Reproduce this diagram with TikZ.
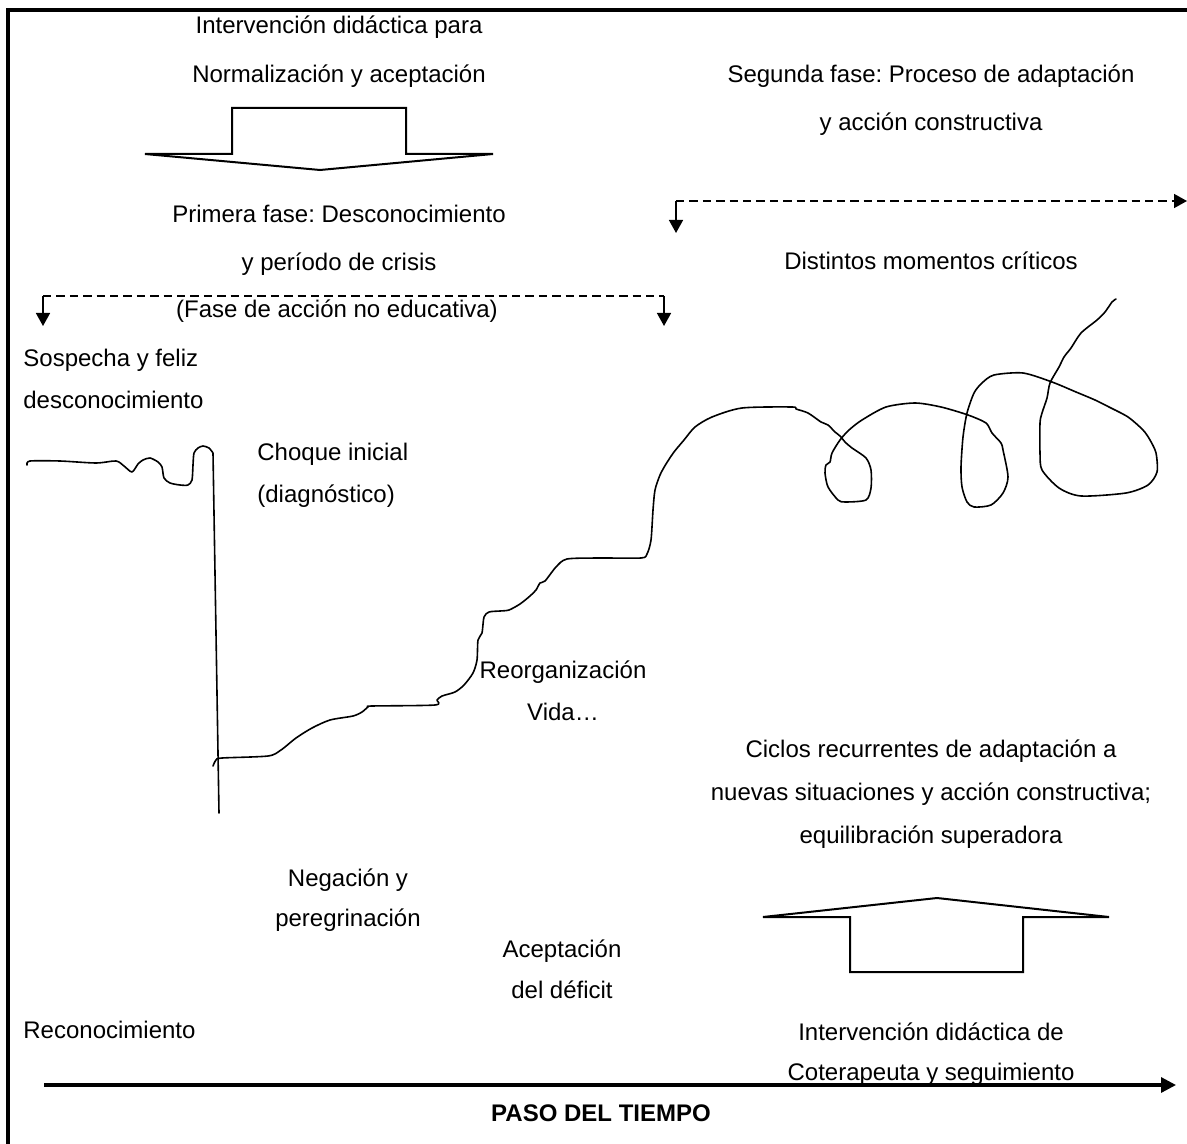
\documentclass[tikz,border=0pt]{standalone}
\usepackage{fontspec}
\setmainfont{Liberation Sans}
\usetikzlibrary{arrows.meta,positioning}
\frenchspacing

\begin{document}
\begin{tikzpicture}[
    x=0.5pt, y=-0.5pt,
    font=\fontsize{12}{14}\selectfont,
    ctxt/.style={inner sep=0pt, anchor=base},
    ltxt/.style={inner sep=0pt, anchor=base west},
    blockarrow/.style={line width=1pt, line join=miter},
    bracket/.style={line width=0.75pt, dash pattern=on 4.2pt off 2.5pt},
    tick/.style={-{Triangle[length=6.5pt, width=7pt]}, line width=0.75pt},
    timearrow/.style={-{Triangle[length=7.5pt, width=7.5pt]}, line width=1.6pt},
    curve/.style={line width=0.8pt, line join=round, line cap=round},
  ]
  \useasboundingbox (0,0) rectangle (1187,1144);

  % Frame
  \draw[line width=1.75pt] (8,1160) -- (8,10) -- (1200,10);

  % First phase
  \node[ctxt] (normA) at (339,34) {Intervención didáctica para};
  \node[ctxt] (normB) at (339,83) {Normalización y aceptación};
  \draw[blockarrow] (232,108) -- (406,108) -- (406,154) -- (493,154) -- (320,170)
    -- (145,154) -- (232,154) -- cycle;
  \node[ctxt] (fase1A) at (339,223) {Primera fase: Desconocimiento};
  \node[ctxt] (fase1B) at (339,271) {y período de crisis};
  \node[ctxt] (fase1C) at (337,318) {(Fase de acción no educativa)};

  \coordinate (f1l) at (43,296);
  \coordinate (f1r) at (664,296);
  \coordinate (f1lend) at (43,326);
  \coordinate (f1rend) at (664,326);
  \draw[bracket] (f1l) -- (f1r);
  \draw[tick] (f1l) -- (f1lend);
  \draw[tick] (f1r) -- (f1rend);

  % Second phase
  \node[ctxt] (fase2A) at (931,83) {Segunda fase: Proceso de adaptación};
  \node[ctxt] (fase2B) at (931,131) {y acción constructiva};
  \coordinate (f2l) at (676,201);
  \coordinate (f2r) at (1187,201);
  \coordinate (f2lend) at (676,233);
  \draw[bracket, -{Triangle[length=6.5pt, width=7pt]}] (f2l) -- (f2r);
  \draw[tick] (f2l) -- (f2lend);
  \node[ctxt] (criticos) at (931,270) {Distintos momentos críticos};

  % Stages
  \node[ltxt] (sospA) at (23,366) {Sospecha y feliz};
  \node[ltxt] (sospB) at (23,408) {desconocimiento};
  \node[ltxt] (choqueA) at (257,460) {Choque inicial};
  \node[ltxt] (choqueB) at (257,502) {(diagnóstico)};
  \node[ctxt] (reorgA) at (563,678) {Reorganización};
  \node[ctxt] (reorgB) at (563,720) {Vida…};
  \node[ctxt] (negA) at (348,886) {Negación y};
  \node[ctxt] (negB) at (348,926) {peregrinación};
  \node[ctxt] (acepA) at (562,957) {Aceptación};
  \node[ctxt] (acepB) at (562,998) {del déficit};
  \node[ltxt] (recon) at (23,1038) {Reconocimiento};

  % Cycles
  \node[ctxt] (ciclosA) at (931,757) {Ciclos recurrentes de adaptación a};
  \node[ctxt] (ciclosB) at (931,800) {nuevas situaciones y acción constructiva;};
  \node[ctxt] (ciclosC) at (931,843) {equilibración superadora};
  \draw[blockarrow] (850,972) -- (1023,972) -- (1023,917) -- (1109,917) -- (937,898)
    -- (763,917) -- (850,917) -- cycle;
  \node[ctxt] (coterA) at (931,1040) {Intervención didáctica de};
  \node[ctxt] (coterB) at (931,1080) {Coterapeuta y seguimiento};

  % Time axis
  \coordinate (t0) at (44,1085);
  \coordinate (t1) at (1176,1085);
  \draw[timearrow] (t0) -- (t1);
  \node[ctxt, font=\fontsize{12}{14}\selectfont\bfseries] (tiempo) at (601,1121) {PASO DEL TIEMPO};

  % Curve: plateau and drop
  \draw[curve] plot[smooth, tension=0.45] coordinates {
    (27,465) (30,461) (60,461) (96,463) (116,461) (124,466) (132,472) (138,464)
    (143,460) (150,458) (158,462) (162,467) (164,478) (170,483) (180,485) (188,485)
    (192,480) (193,465) (194,453) (198,448) (203,446) (209,448) (213,453)}
    -- (219,813);

  % Curve: recovery and loops
  \draw[curve] plot[smooth, tension=0.45] coordinates {
    (213,766) (216,760) (222,758) (268,756) (281,750) (296,738) (312,728) (330,720)
    (353,716) (362,712) (368,707) (372,706) (435,705) (437,700) (442,696) (455,692)
    (464,685) (473,673) (477,660) (478,640) (482,633) (484,617) (489,612) (500,611)
    (509,610) (520,604) (530,596) (536,590) (540,583) (545,581) (556,567) (567,559)
    (600,558) (641,558) (647,554) (651,540) (653,510) (655,490) (660,475) (666,464)
    (674,452) (684,440) (695,427) (712,417) (742,408) (792,407) (796,409) (808,413)
    (821,422) (828,425) (835,432) (840,436) (845,442) (852,448) (866,458) (871,470)
    (871,488) (866,500) (845,502) (838,500) (828,487) (825,473) (826,465) (830,462)
    (832,453) (840,440) (849,430) (862,420) (886,407) (915,403) (941,407) (968,415)
    (986,423) (992,433) (1001,443) (1003,450) (1008,477) (1003,493) (991,505) (974,507)
    (967,502) (962,487) (961,467) (963,437) (967,413) (974,393) (982,383) (994,375)
    (1023,373) (1052,382) (1076,392) (1095,400) (1109,407) (1128,417) (1143,430)
    (1150,440) (1156,453) (1157,472) (1148,485) (1126,493) (1081,496) (1059,488)
    (1042,470) (1040,453) (1040,423) (1042,413) (1047,398) (1050,383) (1059,367)
    (1064,357) (1071,348) (1081,333) (1097,320) (1105,312) (1112,302) (1116,299)};
\end{tikzpicture}
\end{document}
